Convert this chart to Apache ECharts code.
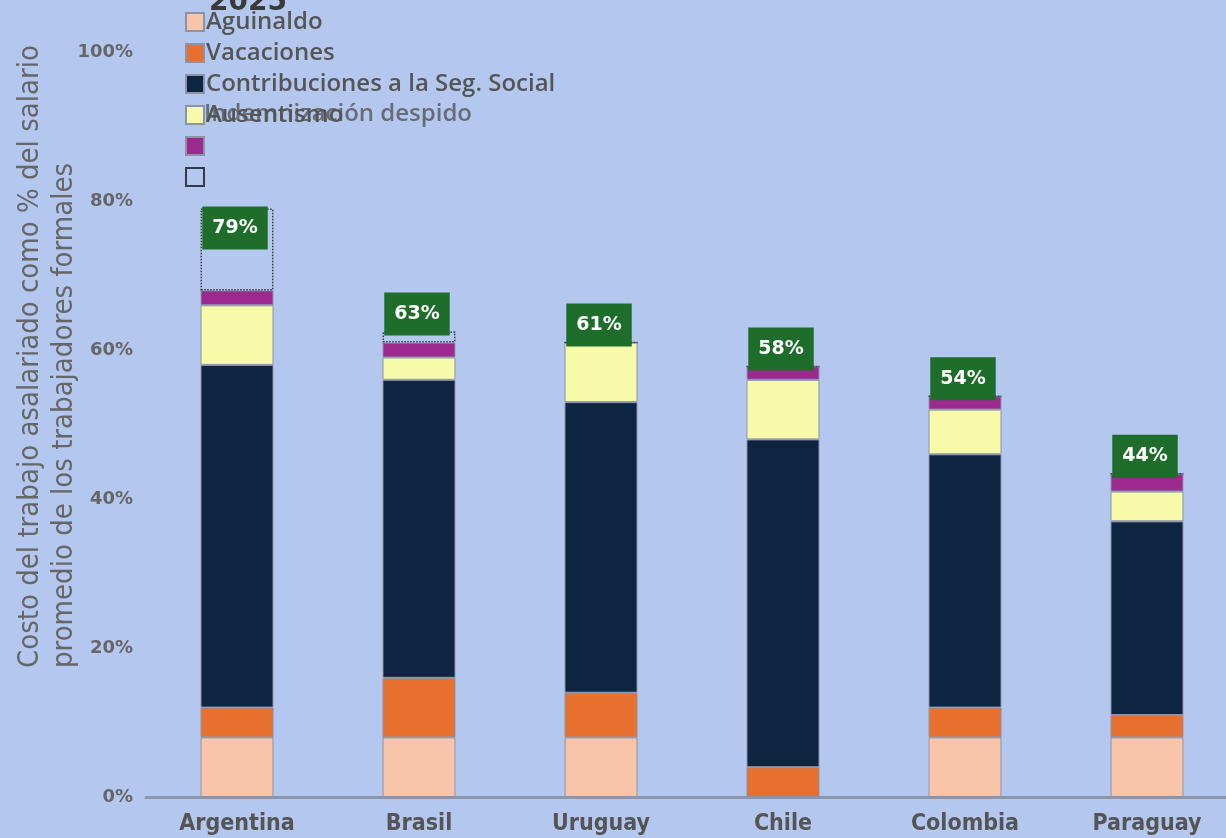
<!DOCTYPE html>
<html><head><meta charset="utf-8">
<script src="https://cdn.jsdelivr.net/npm/echarts@6/dist/echarts.min.js"></script>
<style>html,body{margin:0;padding:0;background:#b4c8ef;overflow:hidden;}#c{width:1240px;height:838px;}</style>
</head><body><div id="c"></div>
<script>
var categories = ['Argentina','Brasil','Uruguay','Chile','Colombia','Paraguay'];
var aguinaldo = [8, 8, 8, 0, 8, 8];
var vacaciones = [4, 8, 6, 4, 4, 3];
var contribuciones = [46, 40, 39, 44, 34, 26];
var indemnizacion = [8, 3, 8, 8, 6, 4];
var ausentismo = [2, 2, 0, 1.8, 1.8, 2.4];
var otros = [11, 1.5, 0, 0, 0, 0];
var totals = [79, 63, 61, 58, 54, 44];
var yTicks = [0, 20, 40, 60, 80, 100];

var chart = echarts.init(document.getElementById('c'));
var border = {borderColor:'#8d93a6', borderWidth:1};
function seg(name, data, color, extra){
  return Object.assign({
    name:name, type:'bar', stack:'t', data:data, barWidth:73,
    itemStyle:Object.assign({color:color}, border)
  }, extra||{});
}
var labelData = totals.map(function(t,i){
  return {value:0, label:{position: i===0 ? 'insideTop' : 'top', distance: i===0 ? -2 : -4}};
});
var condensed = '"DejaVu Sans Condensed", "Liberation Sans", sans-serif';
chart.setOption({
  backgroundColor:'#b4c8ef',
  animation:false,
  title:{text:'2025', left:204, top:-16, textStyle:{fontFamily:'DejaVu Sans', fontWeight:'bold', fontSize:28, color:'#3a3a3a'}},
  legend:{
    orient:'vertical', left:180, top:5, itemWidth:18, itemHeight:18, itemGap:7,
    icon:'rect',
    data:['Aguinaldo','Vacaciones','Contribuciones a la Seg. Social','Ausentismo','Indemnización por despido','Otros'],
    textStyle:{fontFamily:'Open Sans', fontWeight:600, fontSize:24, color:'#555', padding:[0,0,0,-3]},
    formatter:function(n){ if(n==='Indemnización por despido'||n==='Otros') return ' '; return n; }
  },
  grid:{left:146, width:1092, top:52, bottom:41},
  xAxis:{type:'category', data:categories,
    axisLine:{lineStyle:{color:'#8c97ac', width:3}}, axisTick:{show:false},
    axisLabel:{margin:16, fontFamily:condensed, fontWeight:'bold', fontSize:23, color:'#555'}},
  yAxis:{type:'value', min:0, max:100, interval:20,
    axisLine:{show:false}, axisTick:{show:false}, splitLine:{show:false},
    axisLabel:{margin:13, fontFamily:'DejaVu Sans', fontWeight:'bold', fontSize:18, color:'#666',
      formatter:function(v){ return yTicks.indexOf(v)>=0 ? v+'%' : ''; }}},
  graphic:[
    {type:'text', x:204, y:114, style:{text:'Indemnización despido', font:'600 24px "Open Sans"', fill:'rgba(85,85,85,0.8)', verticalAlign:'middle'}},
    {type:'text', x:30, y:668, rotation:Math.PI/2, style:{text:'Costo del trabajo asalariado como % del salario', font:'29px ' + condensed, fill:'#666', align:'left', verticalAlign:'middle'}},
    {type:'text', x:64, y:668, rotation:Math.PI/2, style:{text:'promedio de los trabajadores formales', font:'29px ' + condensed, fill:'#666', align:'left', verticalAlign:'middle'}}
  ],
  series:[
    seg('Aguinaldo', aguinaldo, '#f8c5aa'),
    seg('Vacaciones', vacaciones, '#e8702f'),
    seg('Contribuciones a la Seg. Social', contribuciones, '#0d2541'),
    seg('Ausentismo', indemnizacion, '#f6faa9'),
    seg('Indemnización por despido', ausentismo, '#9c2a8e'),
    seg('Otros', otros, 'rgba(0,0,0,0)', {itemStyle:{color:'rgba(0,0,0,0)', borderColor:'#333a4a', borderWidth:1.5, borderType:'dotted'}}),
    {name:'total', type:'bar', stack:'t', barWidth:73, data:labelData, itemStyle:{color:'transparent'},
      label:{show:true, formatter:function(p){return totals[p.dataIndex]+'%';},
        backgroundColor:'#1e6d2b', color:'#fff', fontFamily:'DejaVu Sans', fontWeight:'bold', fontSize:19,
        padding:[12,10,12,10], offset:[-2,0]}}
  ]
});
</script></body></html>
